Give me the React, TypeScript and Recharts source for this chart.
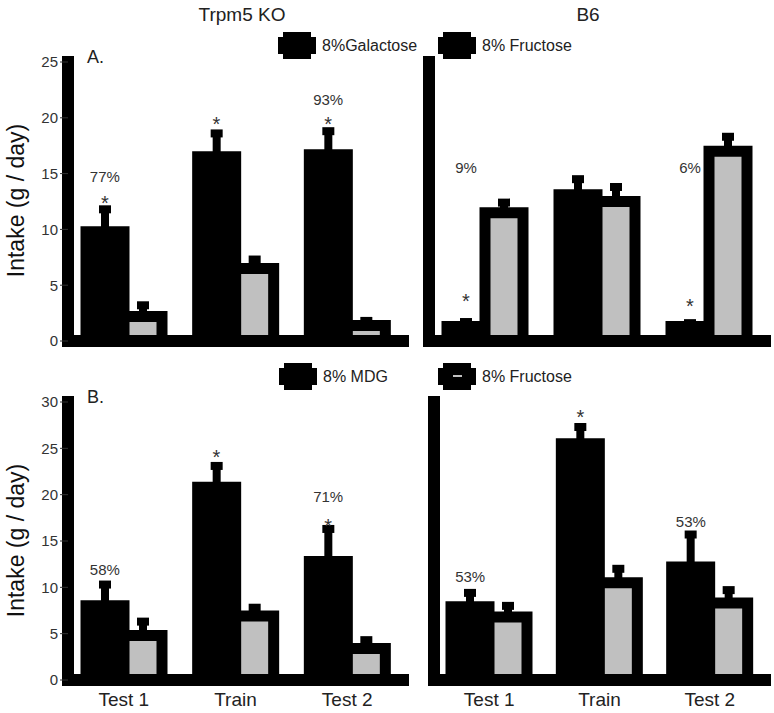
import React from 'react';
import { BarChart, Bar, XAxis, YAxis, ErrorBar, ReferenceDot, Legend } from 'recharts';

const groups = ['Test 1', 'Train', 'Test 2'];

// A. galactose vs fructose
const koGal = [9.8, 16.5, 16.7];
const koGalErr = [2.0, 2.1, 2.1];
const koFruA = [2.2, 6.5, 1.4];
const koFruAErr = [1.0, 0.8, 0.4];
const b6Gal = [1.3, 13.1, 1.3];
const b6GalErr = [0.4, 1.4, 0.3];
const b6FruA = [11.5, 12.5, 17.0];
const b6FruAErr = [0.9, 1.3, 1.3];

// B. MDG vs fructose
const koMdg = [8.0, 20.8, 12.8];
const koMdgErr = [2.3, 2.3, 3.5];
const koFruB = [4.8, 6.9, 3.4];
const koFruBErr = [1.5, 0.9, 0.9];
const b6Mdg = [7.9, 25.5, 12.2];
const b6MdgErr = [1.5, 1.8, 3.5];
const b6FruB = [6.8, 10.5, 8.3];
const b6FruBErr = [1.2, 1.5, 1.4];

// annotations (text and height in g/day)
const koStarA = ['*', '*', '*'];
const koStarAY = [12.7, 19.8, 19.8];
const koPctA = ['77%', '', '93%'];
const koPctAY = [14.7, 0, 21.6];
const b6StarA = ['*', '', '*'];
const b6StarAY = [3.9, 0, 3.5];
const b6PctA = ['9%', '', '6%'];
const b6PctAY = [15.5, 0, 15.5];
const koStarB = ['', '*', '*'];
const koStarBY = [0, 24.5, 17.0];
const koPctB = ['58%', '', '71%'];
const koPctBY = [11.9, 0, 19.7];
const b6StarB = ['', '*', ''];
const b6StarBY = [0, 28.8, 0];
const b6PctB = ['53%', '', '53%'];
const b6PctBY = [11.1, 0, 17.0];

const ticksA = [0, 5, 10, 15, 20, 25];
const ticksB = [0, 5, 10, 15, 20, 25, 30];

const FONT = '"Liberation Sans", Arial, sans-serif';
const BAR = 38;

const buildRows = (a: number[], aErr: number[], b: number[], bErr: number[]) =>
  groups.map((g, i) => ({ group: g, a: a[i], aErr: [0, aErr[i]], b: b[i], bErr: [0, bErr[i]] }));

type Note = { group: string; y: number; text: string; star: boolean };

const buildNotes = (stars: string[], starY: number[], pcts: string[], pctY: number[]): Note[] => {
  const out: Note[] = [];
  groups.forEach((g, i) => {
    if (stars[i]) out.push({ group: g, y: starY[i], text: stars[i], star: true });
    if (pcts[i]) out.push({ group: g, y: pctY[i], text: pcts[i], star: false });
  });
  return out;
};

const Swatch = ({ dash }: { dash?: boolean }) => (
  <svg width={38} height={27} style={{ display: 'block' }}>
    <rect x={5} y={0} width={28} height={27} fill="#000" />
    <rect x={0} y={5} width={38} height={17} fill="#000" />
    {dash && <rect x={15} y={12} width={9} height={2} fill="#c0c0c0" />}
  </svg>
);

const axisStyle = { stroke: '#000', strokeWidth: 12, strokeLinecap: 'square' as const };

interface PanelProps {
  left: number;
  top: number;
  width: number;
  height: number;
  margin: { top: number; right: number; bottom: number; left: number };
  rows: any[];
  yMax: number;
  yTicks: number[];
  showY: boolean;
  showX: boolean;
  xHeight: number;
  nameA: string;
  nameB: string;
  legendKey: string;
  legendLeft: number;
  legendTop: number;
  dash?: boolean;
  notes: Note[];
}

const Panel = (p: PanelProps) => (
  <div style={{ position: 'absolute', left: p.left, top: p.top }}>
    <BarChart width={p.width} height={p.height} data={p.rows} margin={p.margin} barGap={0} barSize={BAR}>
      <XAxis
        dataKey="group"
        height={p.xHeight}
        axisLine={axisStyle}
        tickLine={false}
        tick={p.showX ? { fontSize: 19, fill: '#222', fontFamily: FONT } : false}
        tickMargin={7}
      />
      <YAxis
        domain={[0, p.yMax]}
        ticks={p.yTicks}
        allowDataOverflow
        width={p.showY ? 50 : 1}
        axisLine={axisStyle}
        tick={p.showY ? { fontSize: 15, fill: '#333', fontFamily: FONT } : false}
        tickLine={p.showY ? { stroke: '#333' } : false}
        tickSize={8}
        tickMargin={2}
      />
      <Bar dataKey="a" name={p.nameA} fill="#000" stroke="#000" strokeWidth={11} isAnimationActive={false}>
        <ErrorBar dataKey="aErr" width={6} strokeWidth={8} stroke="#000" isAnimationActive={false} />
      </Bar>
      <Bar dataKey="b" name={p.nameB} fill="#c0c0c0" stroke="#000" strokeWidth={11} isAnimationActive={false}>
        <ErrorBar dataKey="bErr" width={6} strokeWidth={8} stroke="#000" isAnimationActive={false} />
      </Bar>
      {p.notes.map((n, i) => (
        <ReferenceDot
          key={i}
          x={n.group}
          y={n.y}
          r={0}
          shape={(s: any) => (
            <text
              x={s.cx - BAR / 2}
              y={n.star ? s.cy + 11 : s.cy + 5}
              textAnchor="middle"
              fontSize={n.star ? 20 : 15}
              fill="#333"
              fontFamily={FONT}
            >
              {n.text}
            </text>
          )}
        />
      ))}
      <Legend
        layout="vertical"
        align="center"
        verticalAlign="middle"
        wrapperStyle={{ left: p.legendLeft, top: p.legendTop, width: 'auto' }}
        content={(props: any) => {
          const entry = (props.payload || []).find((e: any) => e.dataKey === p.legendKey);
          if (!entry) return null;
          return (
            <div style={{ display: 'flex', alignItems: 'center', fontFamily: FONT }}>
              <Swatch dash={p.dash} />
              <span style={{ marginLeft: 6, fontSize: 16, color: '#222', whiteSpace: 'nowrap' }}>{entry.value}</span>
            </div>
          );
        }}
      />
    </BarChart>
  </div>
);

const textDiv = (extra: React.CSSProperties): React.CSSProperties => ({
  position: 'absolute',
  fontFamily: FONT,
  lineHeight: 1,
  color: '#222',
  whiteSpace: 'nowrap',
  ...extra,
});

export default function App() {
  return (
    <div style={{ position: 'absolute', left: 0, top: 0, width: 774, height: 713, background: '#fff', overflow: 'hidden' }}>
      <Panel
        left={0} top={0} width={410} height={360}
        margin={{ top: 62, right: 7, bottom: 0, left: 18 }}
        rows={buildRows(koGal, koGalErr, koFruA, koFruAErr)}
        yMax={25} yTicks={ticksA} showY showX={false} xHeight={19}
        nameA="8%Galactose" nameB="8% Fructose" legendKey="a"
        legendLeft={278} legendTop={32}
        notes={buildNotes(koStarA, koStarAY, koPctA, koPctAY)}
      />
      <Panel
        left={405} top={0} width={369} height={360}
        margin={{ top: 62, right: 9, bottom: 0, left: 23 }}
        rows={buildRows(b6Gal, b6GalErr, b6FruA, b6FruAErr)}
        yMax={25} yTicks={ticksA} showY={false} showX={false} xHeight={19}
        nameA="8%Galactose" nameB="8% Fructose" legendKey="b"
        legendLeft={33} legendTop={32}
        notes={buildNotes(b6StarA, b6StarAY, b6PctA, b6PctAY)}
      />
      <Panel
        left={0} top={355} width={410} height={358}
        margin={{ top: 47, right: 7, bottom: 0, left: 18 }}
        rows={buildRows(koMdg, koMdgErr, koFruB, koFruBErr)}
        yMax={30} yTicks={ticksB} showY showX xHeight={33}
        nameA="8% MDG" nameB="8% Fructose" legendKey="a"
        legendLeft={279} legendTop={8}
        notes={buildNotes(koStarB, koStarBY, koPctB, koPctBY)}
      />
      <Panel
        left={405} top={355} width={369} height={358}
        margin={{ top: 47, right: 9, bottom: 0, left: 28 }}
        rows={buildRows(b6Mdg, b6MdgErr, b6FruB, b6FruBErr)}
        yMax={30} yTicks={ticksB} showY={false} showX xHeight={33}
        nameA="8% MDG" nameB="8% Fructose" legendKey="b" dash
        legendLeft={33} legendTop={8}
        notes={buildNotes(b6StarB, b6StarBY, b6PctB, b6PctBY)}
      />

      <div style={textDiv({ left: 142, top: 5, width: 200, textAlign: 'center', fontSize: 19 })}>Trpm5 KO</div>
      <div style={textDiv({ left: 488, top: 5, width: 200, textAlign: 'center', fontSize: 19 })}>B6</div>
      <div style={textDiv({ left: 87, top: 48, fontSize: 18 })}>A.</div>
      <div style={textDiv({ left: 87, top: 388, fontSize: 18 })}>B.</div>
      <div style={textDiv({ left: -84, top: 189, width: 200, textAlign: 'center', fontSize: 23, color: '#111', transform: 'rotate(-90deg)' })}>
        Intake (g / day)
      </div>
      <div style={textDiv({ left: -84, top: 529, width: 200, textAlign: 'center', fontSize: 23, color: '#111', transform: 'rotate(-90deg)' })}>
        Intake (g / day)
      </div>
    </div>
  );
}
